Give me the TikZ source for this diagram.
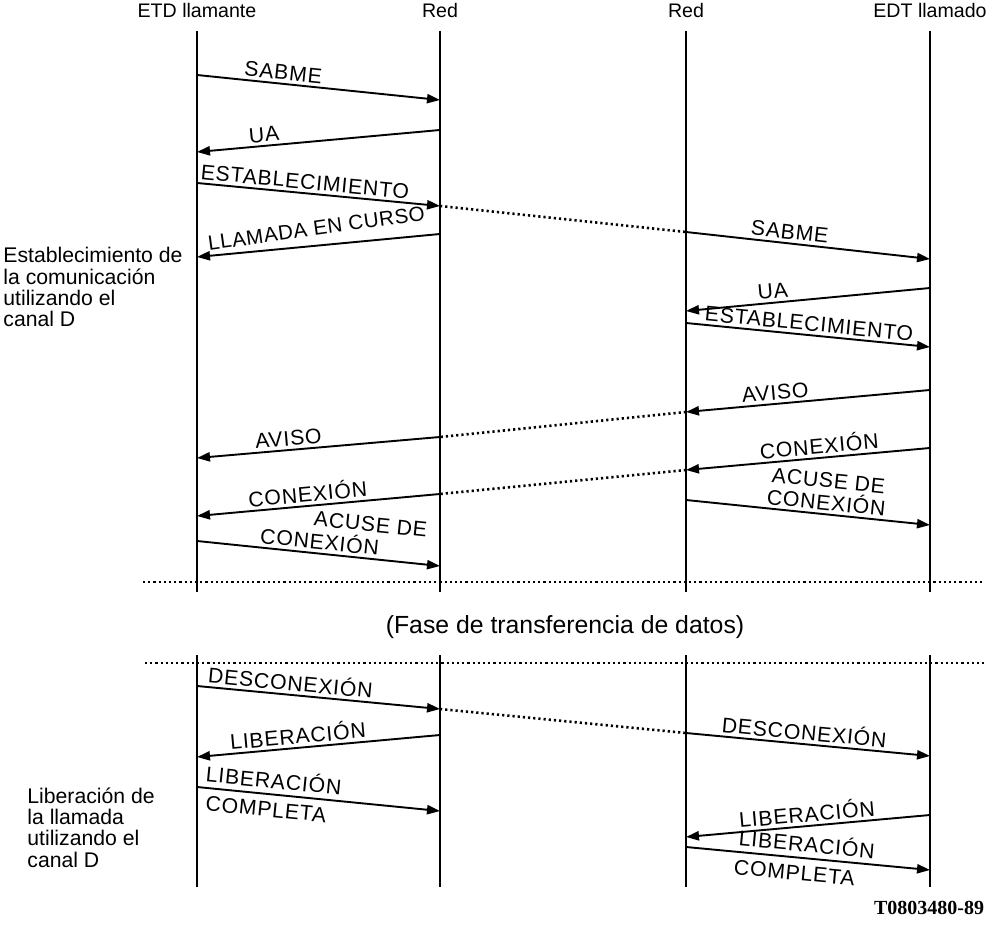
\documentclass[tikz,border=0pt]{standalone}
\usepackage{fontspec}
\setmainfont{Liberation Sans}
\newfontfamily\codefont{Liberation Serif}
\usetikzlibrary{arrows.meta}

\tikzset{
		lifeline/.style={line width=1pt},
		msg/.style={line width=0.95pt,-{Triangle[length=6.5pt,width=4.6pt]}},
		relay/.style={line width=1.3pt,dash pattern=on 1.1pt off 1.5pt},
		sep/.style={line width=1.3pt,dash pattern=on 1.1pt off 1.5pt},
		lbl/.style={sloped,above,inner sep=1.5pt,font=\fontsize{10.6}{11}\selectfont\addfontfeatures{LetterSpace=4}},
		party/.style={font=\fontsize{9.8}{11}\selectfont},
		side/.style={align=left,anchor=north west,inner sep=0pt,font=\fontsize{10.6}{10.7}\selectfont}
	}

\begin{document}
\begin{tikzpicture}[x=0.5pt,y=-0.5pt]
	\useasboundingbox (0,0) rectangle (994,945);

	\node[party] (etd) at (197,11) {ETD llamante};
	\node[party] (red1) at (440,11) {Red};
	\node[party] (red2) at (686,11) {Red};
	\node[party] (edt) at (930,11) {EDT llamado};

	\foreach \n/\x in {etd/197,red1/440,red2/686,edt/930}{
		\coordinate (\n-t) at (\x,31);
		\coordinate (\n-b) at (\x,592);
		\coordinate (\n-u) at (\x,655);
		\coordinate (\n-v) at (\x,887);
		\draw[lifeline] (\n-t) -- (\n-b);
		\draw[lifeline] (\n-u) -- (\n-v);
	}

	\foreach \n/\x/\y in {
		m1a/197/75, m1b/440/100, m2a/440/130, m2b/197/152,
		m3a/197/183, m3b/440/206, m5a/440/234, m5b/197/257,
		m6a/686/232, m6b/930/259, m7a/930/288, m7b/686/311,
		m8a/686/323, m8b/930/347, m9a/930/390, m9b/686/412,
		m11a/440/437, m11b/197/458, m12a/930/448, m12b/686/470,
		m14a/440/494, m14b/197/516, m15a/686/500, m15b/930/525,
		m16a/197/541, m16b/440/566,
		m17a/197/686, m17b/440/709, m19a/686/733, m19b/930/756,
		m20a/440/735, m20b/197/757, m21a/197/787, m21b/440/811,
		m22a/930/815, m22b/686/837, m23a/686/847, m23b/930/870,
		s1a/143/582, s1b/985/582, s2a/145/663, s2b/985/663
	} \coordinate (\n) at (\x,\y);

	% establecimiento
	\draw[msg] (m1a) -- node[lbl,pos=.35] {SABME} (m1b);
	\draw[msg] (m2a) -- node[lbl,pos=.72] {UA} (m2b);
	\draw[msg] (m3a) -- node[lbl,pos=.44] {ESTABLECIMIENTO} (m3b);
	\draw[relay] (m3b) -- (m6a);
	\draw[msg] (m5a) -- node[lbl,pos=.5,above=3pt,rotate=2.5,font=\fontsize{10.3}{11}\selectfont\addfontfeatures{LetterSpace=3}] {LLAMADA EN CURSO} (m5b);
	\draw[msg] (m6a) -- node[lbl,pos=.42] {SABME} (m6b);
	\draw[msg] (m7a) -- node[lbl,pos=.64] {UA} (m7b);
	\draw[msg] (m8a) -- node[lbl,pos=.5] {ESTABLECIMIENTO} (m8b);
	\draw[msg] (m9a) -- node[lbl,pos=.63] {AVISO} (m9b);
	\draw[relay] (m9b) -- (m11a);
	\draw[msg] (m11a) -- node[lbl,pos=.62] {AVISO} (m11b);
	\draw[msg] (m12a) -- node[lbl,pos=.45] {CONEXIÓN} (m12b);
	\draw[relay] (m12b) -- (m14a);
	\draw[msg] (m14a) -- node[lbl,pos=.54] {CONEXIÓN} (m14b);
	\draw[msg] (m15a) -- node[lbl,pos=.57,align=center,font=\fontsize{10.6}{11.2}\selectfont\addfontfeatures{LetterSpace=4}] {ACUSE DE\\CONEXIÓN} (m15b);
	\draw[msg] (m16a) -- node[lbl,pos=.5] {CONEXIÓN} node[lbl,pos=.7,above=11.5pt] {ACUSE DE} (m16b);

	\draw[sep] (s1a) -- (s1b);
	\node[font=\fontsize{12.4}{13}\selectfont] (fase) at (565,627) {(Fase de transferencia de datos)};
	\draw[sep] (s2a) -- (s2b);

	% liberacion
	\draw[msg] (m17a) -- node[lbl,pos=.38] {DESCONEXIÓN} (m17b);
	\draw[relay] (m17b) -- (m19a);
	\draw[msg] (m19a) -- node[lbl,pos=.48] {DESCONEXIÓN} (m19b);
	\draw[msg] (m20a) -- node[lbl,pos=.58] {LIBERACIÓN} (m20b);
	\draw[msg] (m21a) -- node[lbl,pos=.31,above=1pt] {LIBERACIÓN} node[lbl,below=2pt,pos=.29] {COMPLETA} (m21b);
	\draw[msg] (m22a) -- node[lbl,pos=.5] {LIBERACIÓN} (m22b);
	\draw[msg] (m23a) -- node[lbl,pos=.49,above=1pt] {LIBERACIÓN} node[lbl,below=2pt,pos=.45] {COMPLETA} (m23b);

	\node[side] (est) at (3,247) {Establecimiento de\\la comunicación\\utilizando el\\canal D};
	\node[side] (lib) at (27,787) {Liberación de\\la llamada\\utilizando el\\canal D};
	\node[font=\codefont\bfseries\fontsize{10}{11}\selectfont] (ref) at (929,908) {T0803480-89};
\end{tikzpicture}
\end{document}
